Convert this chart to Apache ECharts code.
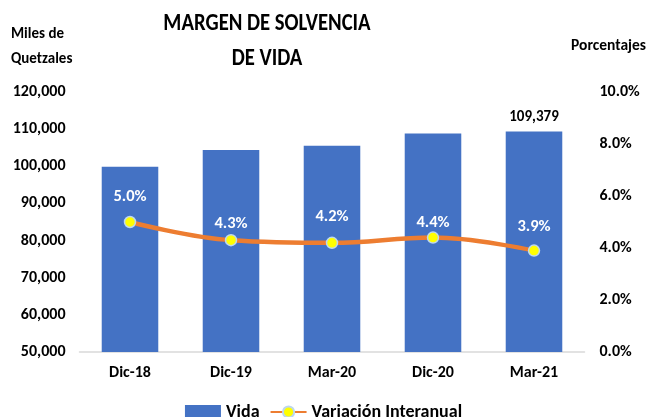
<!DOCTYPE html>
<html>
<head>
<meta charset="utf-8">
<script src="https://cdn.jsdelivr.net/npm/echarts@6/dist/echarts.min.js"></script>
<style>
  html, body { margin: 0; padding: 0; background: #fff; }
  #chart { width: 647px; height: 417px; }
</style>
</head>
<body>
<div id="chart"></div>
<script>
// Periods on the horizontal axis
const categories = ['Dic-18', 'Dic-19', 'Mar-20', 'Dic-20', 'Mar-21'];
// Margin of solvency, life insurance (thousands of quetzales)
const vida = [99900, 104400, 105500, 108800, 109379];
// Year-over-year change (percent)
const variacion = [5.0, 4.3, 4.2, 4.4, 3.9];

const FONT = 'Carlito, Lato, "Liberation Sans", sans-serif';
const fmtThousands = v => String(Math.round(v)).replace(/\B(?=(\d{3})+(?!\d))/g, ',');

// Gap between each percentage label and its marker
const labelGap = [10, 2, 11, 0, 9];

// Title lines drawn slightly condensed, centred on x = 267
const titleLine = (text, y) => ({
  type: 'text', x: 267, y: y, scaleX: 0.88,
  style: { text: text, x: 0, y: 0, align: 'center', verticalAlign: 'middle', font: 'bold 23.5px ' + FONT, fill: '#000' }
});

const chart = echarts.init(document.getElementById('chart'), null, { renderer: 'canvas' });
chart.setOption({
  animation: false,
  textStyle: { fontFamily: FONT },
  graphic: [
    titleLine('MARGEN DE SOLVENCIA', 24),
    titleLine('DE VIDA', 59),
    { type: 'text', left: 11, top: 22, style: { text: 'Miles de\nQuetzales', font: 'bold 15px ' + FONT, fill: '#000', lineHeight: 25 } },
    { type: 'text', right: 1, top: 38, style: { text: 'Porcentajes', font: 'bold 15.5px ' + FONT, fill: '#000' } }
  ],
  legend: {
    bottom: -9, left: 'center', itemGap: 10,
    itemWidth: 36, itemHeight: 14,
    textStyle: { fontFamily: FONT, fontSize: 18, fontWeight: 'bold', color: '#000' },
    data: [
      { name: 'Vida', icon: 'rect' },
      { name: 'Variación Interanual' }
    ]
  },
  grid: { left: 79.5, right: 62.5, top: 92, bottom: 65 },
  xAxis: {
    type: 'category', data: categories,
    axisLine: { lineStyle: { color: '#D9D9D9', width: 1.5 } },
    axisTick: { show: false },
    axisLabel: { color: '#000', fontSize: 16, fontWeight: 'bold', margin: 13, fontFamily: FONT }
  },
  yAxis: [
    {
      type: 'value', min: 50000, max: 120000, interval: 10000,
      splitLine: { show: false }, axisLine: { show: false }, axisTick: { show: false },
      axisLabel: { color: '#000', fontSize: 16, fontWeight: 'bold', margin: 14, fontFamily: FONT, formatter: fmtThousands }
    },
    {
      type: 'value', min: 0, max: 10, interval: 2,
      splitLine: { show: false }, axisLine: { show: false }, axisTick: { show: false },
      axisLabel: { color: '#000', fontSize: 16, fontWeight: 'bold', margin: 15, fontFamily: FONT, formatter: v => v.toFixed(1) + '%' }
    }
  ],
  series: [
    {
      name: 'Vida', type: 'bar', data: vida, barWidth: '56%',
      itemStyle: { color: '#4472C4' },
      label: {
        show: true, position: 'top', distance: 7,
        color: '#000', fontSize: 15, fontWeight: 'bold', fontFamily: FONT,
        formatter: p => p.dataIndex === vida.length - 1 ? fmtThousands(p.value) : ''
      }
    },
    {
      name: 'Variación Interanual', type: 'line', yAxisIndex: 1,
      data: variacion.map((v, i) => ({ value: v, label: { distance: labelGap[i] } })),
      smooth: 0.4, symbol: 'circle', symbolSize: 11,
      lineStyle: { color: '#ED7D31', width: 4.5 },
      itemStyle: { color: '#FFFF00', borderColor: '#BDD7EE', borderWidth: 1.5 },
      label: {
        show: true, position: 'top',
        color: '#fff', fontSize: 16.5, fontWeight: 'bold', fontFamily: FONT,
        formatter: p => p.value.toFixed(1) + '%'
      },
      z: 3
    }
  ]
});
</script>
</body>
</html>
